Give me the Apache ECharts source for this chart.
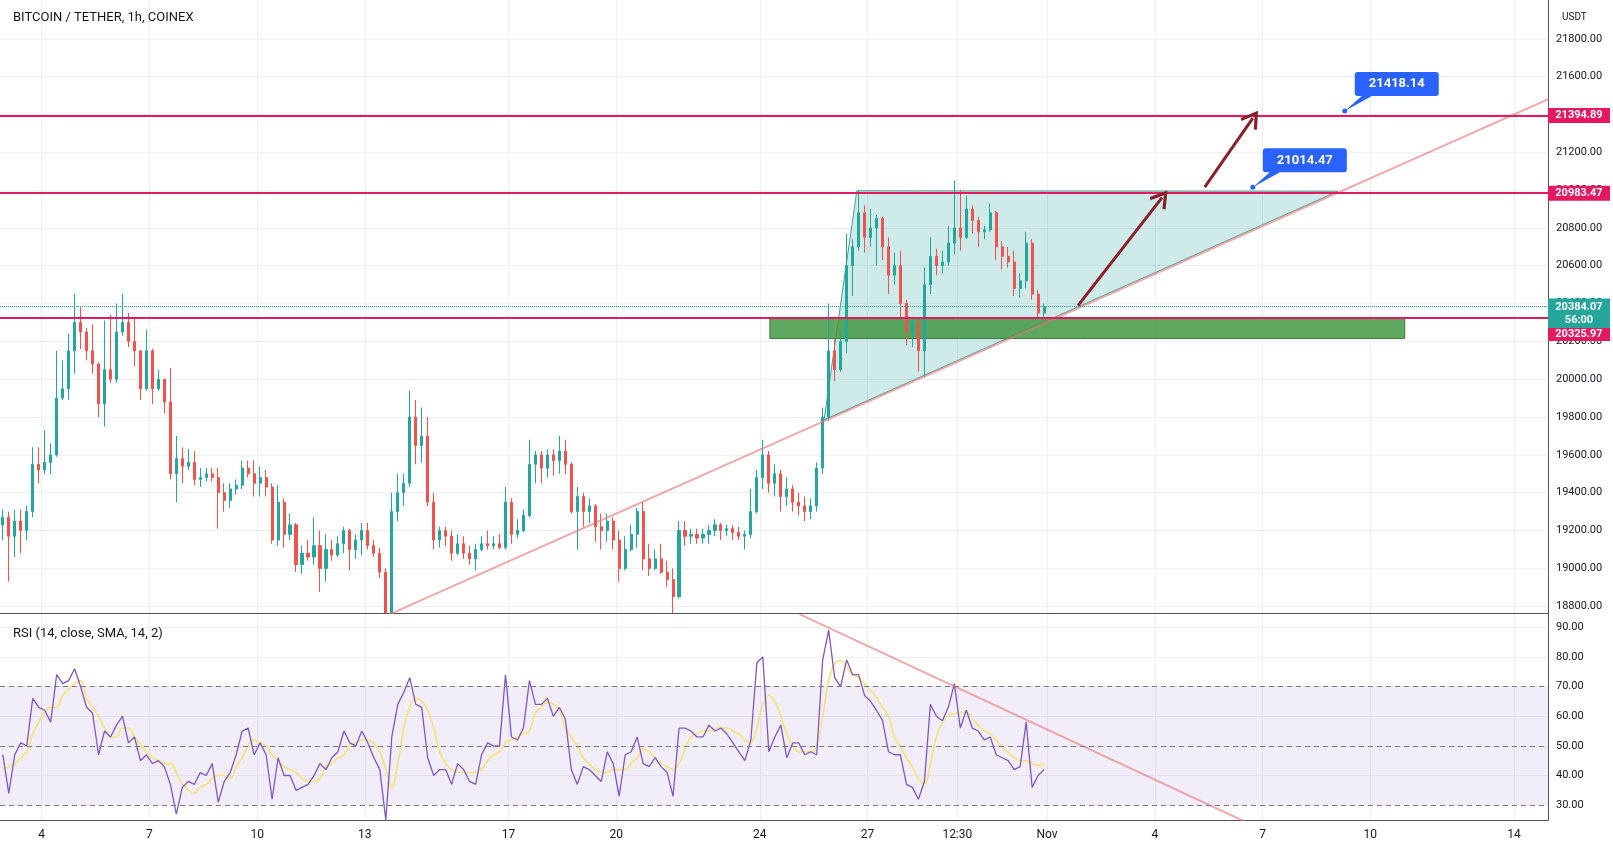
<!DOCTYPE html>
<html><head><meta charset="utf-8">
<script src="https://cdn.jsdelivr.net/npm/echarts@6/dist/echarts.min.js"></script>
<style>html,body{margin:0;padding:0;background:#fff}#c{width:1613px;height:845px}</style>
</head><body><div id="c"></div>
<script>
// ---------- data (x values are "day of October", Nov 1 = 32) ----------
const titleText = 'BITCOIN / TETHER, 1h, COINEX';
const rsiTitle = 'RSI (14, close, SMA, 14, 2)';
const firstCandleHour = 46;   // hours after Oct 1 00:00 (centre of first 4h candle)
const candleHours = 4;

const opens = [19230,19270,19170,19250,19200,19300,19550,19520,19560,19600,
19900,19950,20150,20300,20250,20150,20080,19870,20050,20000,
20250,20300,20200,20150,19950,20150,19950,20000,19880,19500,
19580,19540,19560,19470,19480,19500,19480,19400,19360,19420,
19440,19530,19500,19450,19480,19430,19150,19350,19180,19230,
19020,19080,19060,19120,19000,19100,19070,19130,19200,19100,
19150,19200,19120,19080,18980,18700,19300,19400,19450,19800,
19650,19700,19350,19150,19200,19170,19080,19130,19080,19050,
19100,19130,19120,19130,19110,19350,19180,19200,19280,19550,
19600,19530,19600,19570,19620,19550,19300,19380,19300,19330,
19220,19200,19250,19150,19000,19100,19180,19300,19050,19000,
19050,18980,18940,18850,19200,19170,19180,19160,19180,19200,
19230,19200,19210,19190,19170,19180,19300,19480,19600,19450,
19500,19380,19420,19350,19330,19300,19330,19530,19800,20150,
20050,20200,20600,20700,20880,20750,20800,20850,20700,20550,
20600,20400,20250,20300,20150,20500,20650,20600,20620,20720,
20800,20750,20900,20840,20780,20790,20880,20700,20650,20620,
20480,20520,20720,20450,20350];
const closes = [19270,19170,19250,19200,19300,19550,19520,19560,19600,19900,
19950,20150,20300,20250,20150,20080,19870,20050,20000,20250,
20300,20200,20150,19950,20150,19950,20000,19880,19500,19580,
19540,19560,19470,19480,19500,19480,19400,19360,19420,19440,
19530,19500,19450,19480,19430,19150,19350,19180,19230,19020,
19080,19060,19120,19000,19100,19070,19130,19200,19100,19150,
19200,19120,19080,18980,18700,19300,19400,19450,19800,19650,
19700,19350,19150,19200,19170,19080,19130,19080,19050,19100,
19130,19120,19130,19110,19350,19180,19200,19280,19550,19600,
19530,19600,19570,19620,19550,19300,19380,19300,19330,19220,
19200,19250,19150,19000,19100,19180,19300,19050,19000,19050,
18980,18940,18850,19200,19170,19180,19160,19180,19200,19230,
19200,19210,19190,19170,19180,19300,19480,19600,19450,19500,
19380,19420,19350,19330,19300,19330,19530,19800,20150,20050,
20200,20600,20700,20880,20750,20800,20850,20700,20550,20600,
20400,20250,20300,20150,20500,20650,20600,20620,20720,20800,
20750,20900,20840,20780,20790,20880,20700,20650,20620,20480,
20520,20720,20450,20350,20384.07];
const lows = [19150,18930,19060,19080,19150,19270,19450,19500,19500,19590,
19890,19890,20030,20160,20100,20030,19800,19750,19980,19980,
20230,20170,20070,19890,19940,19870,19940,19820,19470,19350,
19450,19520,19440,19430,19460,19460,19210,19300,19320,19390,
19420,19480,19380,19380,19380,19130,19120,19110,19150,18980,
18970,19040,19020,18875,18930,19040,19060,19080,18990,19050,
19070,19100,19060,18950,18400,18190,19250,19330,19430,19550,
19560,19330,19100,19110,19120,19040,19070,19050,19020,18990,
19090,19100,19100,19100,19100,19130,19160,19190,19270,19450,
19450,19480,19490,19500,19500,19290,19100,19220,19240,19140,
19100,19140,19100,18930,18990,19090,19110,18990,18960,18990,
18970,18900,18650,18840,19120,19130,19130,19130,19130,19170,
19150,19170,19150,19150,19100,19160,19290,19420,19400,19380,
19300,19330,19300,19280,19250,19260,19300,19500,19780,19990,
20040,20140,20440,20680,20670,20700,20600,20630,20450,20500,
20330,20180,20170,20040,20010,20450,20550,20560,20600,20660,
20680,20740,20770,20700,20740,20780,20630,20580,20590,20440,
20430,20480,20420,20320,20330];
const highs = [19310,19300,19310,19310,19330,19640,19640,19730,19660,20150,
20100,20240,20450,20380,20270,20290,20090,20310,20340,20400,
20450,20350,20330,20150,20260,20160,20050,20000,20060,19700,
19640,19630,19620,19530,19530,19530,19530,19450,19450,19470,
19570,19570,19570,19540,19520,19450,19440,19370,19290,19240,
19120,19150,19270,19200,19180,19150,19170,19220,19210,19180,
19240,19240,19150,19110,19000,19400,19500,19500,19940,19890,
19850,19800,19400,19220,19220,19200,19180,19170,19120,19130,
19170,19200,19170,19180,19430,19370,19260,19310,19680,19620,
19620,19630,19630,19700,19680,19560,19430,19400,19370,19340,
19290,19290,19270,19200,19170,19230,19320,19350,19130,19100,
19130,19040,19000,19250,19250,19210,19210,19210,19230,19260,
19240,19230,19230,19220,19200,19420,19520,19680,19620,19550,
19520,19480,19440,19400,19380,19370,19560,19850,20400,20210,
20260,20770,20740,21000,20920,20900,20870,20860,20750,20670,
20680,20420,20330,20320,20590,20750,20690,20680,20810,21050,
21000,20970,20920,20860,20810,20930,20890,20730,20700,20680,
20560,20780,20740,20470,20400];

const rsiValues = [47,34,47,51,50,66,63,62,58,74,
71,72,76,70,63,61,47,55,53,57,
60,51,53,45,47,44,45,43,37,27,
36,38,37,41,40,44,31,38,41,47,
55,56,47,51,47,32,46,40,40,35,
36,37,40,44,42,46,48,55,51,50,
55,51,46,42,25,53,64,68,73,64,
63,46,40,42,42,37,44,42,38,37,
47,51,50,50,74,53,52,56,72,64,
64,66,60,63,59,42,37,43,42,40,
38,48,44,33,47,48,53,44,43,46,
43,41,33,56,56,55,53,53,57,55,
56,54,51,48,45,52,78,80,48,53,
57,46,51,51,47,48,47,79,89,73,
70,79,74,74,67,65,62,58.5,48,47,
47,37,36,32,38,64,60,58.5,63,71,
56,62,56,55,52,53,47,46,45,42,
43,58,36,40,42];
const rsiSma = [42,43,44,46,48,54,58,61,63,63,
67,69,71,72,66,63,60,56,53,53,
56,56,53,50,48,46,45,44,44,41,
37,35,34,36,37,39,40,40,39,43,
46,50,52,51,50,47,45,43,42,41,
39,38,38,39,43,44,46,47,50,51,
52,52,51,48,42,36,44,56,63,66,
65,62,56,48,44,42,41,41,41,41,
42,45,47,48,51,52,53,54,55,61,
63,65,64,62,56,53,50,46,44,42,
41,41,42,42,42,44,46,49,48,46,
44,43,42,44,49,53,54,55,55,56,
56,56,55,54,52,51,56,64,67,65,
60,54,50,48,48,48,50,60,72,77.6,
78.7,76.5,74,73,71,68.6,66.4,63,60,53,
49.6,46,42.8,39,37.2,44,53,58,60.2,60.8,
61.3,61.3,59,56.9,55.2,54,51.8,49.6,47.9,46,
45,45,44,43.5,44];

const xTickValues = [4,7,10,13,17,20,24,27,29.5,32,35,38,41,45];
const xTickLabels = ['4','7','10','13','17','20','24','27','12:30','Nov','4','7','10','14'];
const priceTicks = [18800,19000,19200,19400,19600,19800,20000,20200,20400,20600,20800,21000,21200,21400,21600,21800];
const rsiTicks = [30,40,50,60,70,80,90];
const rsiBand = [30,70];
const rsiDashed = [70,50,30];

const levels = [21394.89, 20983.47, 20325.97];
const lastPrice = 20384.07;
const countdown = '56:00';
const trianglePts = [25.79,19785, 26.70,20996, 40.10,20994];
const zoneBox = [24.28,20326, 41.96,20215];
const trendLine = [[13,18699],[46,21484]];
const arrows = [[[32.86,20389],[35.20,20960]],[[36.39,21016],[37.73,21381]]];
const callouts = [[40.29,21418.14],[37.73,21014.47]];
const rsiTrend = [[25.1,94.4],[37.5,24.5]];

const XMIN = 2.839, XMAX = 45.95;
const PMIN = 18764, PMAX = 22005;
const RMIN = 25, RMAX = 94.8;

// ---------- build ----------
const dayOf = i => 1 + (firstCandleHour + i*candleHours)/24;
// wicks beyond the visible price range are cut at the pane edge, as in the source chart
const clampP = v => Math.min(PMAX, Math.max(PMIN, v));
const candles = opens.map((o,i)=>[dayOf(i), clampP(o), clampP(closes[i]), clampP(lows[i]), clampP(highs[i])]);
const rsiLine = rsiValues.map((v,i)=>[dayOf(i), v]);
const smaLine = rsiSma.map((v,i)=>[dayOf(i), v]);

const RED = '#e5195f', TEAL = '#26a69a', DOWN = '#ef5350';
const TXT = '#131722', GRID = '#eef0f5', AXIS = '#50535e';
const FONT = 'Roboto, "Noto Sans", sans-serif';

function xLabel(v){
  for (let i=0;i<xTickValues.length;i++) if (Math.abs(xTickValues[i]-v)<1e-6) return xTickLabels[i];
  return '';
}
const chevron = 'path://M0,0 L10,16 L7.5,18 L0,6 L-7.5,18 L-10,16 Z';
const calloutPath = 'path://M13,0 L91,0 Q94,0 94,3 L94,21 Q94,24 91,24 L27,24 L0,39 L17,24 L13,24 Q10,24 10,21 L10,3 Q10,0 13,0 Z';

const xCommon = {
  type:'value', min:XMIN, max:XMAX,
  axisTick:{show:false, customValues:xTickValues},
  splitLine:{show:true, lineStyle:{color:GRID, width:1}},
  axisLine:{show:true, lineStyle:{color:AXIS, width:1}}
};

const tagX = XMAX - 1e-4;
const tag = (val, txt, color, h, dy) => ({
  coord:[tagX, val], symbol:'rect', symbolSize:[62,h], symbolOffset:[31,dy],
  itemStyle:{color:color},
  label:{show:true, position:'inside', formatter:txt, color:'#fff', fontSize:11, fontWeight:'bold', lineHeight:13, fontFamily:FONT}
});

const option = {
  animation:false,
  backgroundColor:'#ffffff',
  textStyle:{fontFamily:FONT},
  title:[
    {text:titleText, left:8, top:6, textStyle:{fontSize:13, fontWeight:'normal', color:TXT, fontFamily:FONT}},
    {text:rsiTitle, left:8, top:622, textStyle:{fontSize:13, fontWeight:'normal', color:TXT, fontFamily:FONT}},
    {text:'USDT', left:1557, top:7, textStyle:{fontSize:10, fontWeight:'normal', color:TXT, fontFamily:FONT}}
  ],
  grid:[
    {left:0, right:65, top:0, height:613},
    {left:0, right:65, top:613, height:207}
  ],
  xAxis:[
    Object.assign({gridIndex:0, axisLabel:{show:false}}, xCommon),
    Object.assign({gridIndex:1, axisLabel:{show:true, customValues:xTickValues, formatter:xLabel, color:TXT, fontSize:12, margin:9}}, xCommon)
  ],
  yAxis:[
    {type:'value', gridIndex:0, position:'right', min:PMIN, max:PMAX,
     axisLine:{show:true, lineStyle:{color:AXIS}}, axisTick:{show:false, customValues:priceTicks},
     axisLabel:{customValues:priceTicks, formatter:v=>v.toFixed(2), color:TXT, fontSize:11, margin:8},
     splitLine:{show:true, lineStyle:{color:GRID}}},
    {type:'value', gridIndex:1, position:'right', min:RMIN, max:RMAX,
     axisLine:{show:true, lineStyle:{color:AXIS}}, axisTick:{show:false, customValues:rsiTicks},
     axisLabel:{customValues:rsiTicks, formatter:v=>v.toFixed(2), color:TXT, fontSize:11, margin:8},
     splitLine:{show:true, lineStyle:{color:GRID}}}
  ],
  series:[
    { // triangle pattern
      type:'custom', xAxisIndex:0, yAxisIndex:0, z:1, silent:true,
      data:[trianglePts],
      renderItem:(params, api)=>{
        const pts=[];
        for (let j=0;j<3;j++) pts.push(api.coord([api.value(2*j), api.value(2*j+1)]));
        return {type:'polygon', shape:{points:pts}, style:{fill:'rgba(38,166,154,0.22)', stroke:'#4f9c93', lineWidth:1}};
      },
      encode:{x:[0,2,4], y:[1,3,5]}
    },
    { // green support zone
      type:'custom', xAxisIndex:0, yAxisIndex:0, z:2, silent:true,
      data:[zoneBox],
      renderItem:(params, api)=>{
        const a = api.coord([api.value(0), api.value(1)]);
        const b = api.coord([api.value(2), api.value(3)]);
        return {type:'rect', shape:{x:a[0], y:a[1], width:b[0]-a[0], height:b[1]-a[1]},
          style:{fill:'rgba(67,150,67,0.85)', stroke:'#3d7d3d', lineWidth:1}};
      },
      encode:{x:[0,2], y:[1,3]}
    },
    {
      type:'candlestick', name:'BTCUSDT', xAxisIndex:0, yAxisIndex:0, z:3,
      data:candles, barWidth:2.6, clip:true,
      itemStyle:{color:TEAL, color0:DOWN, borderColor:TEAL, borderColor0:DOWN, borderWidth:1},
      markLine:{
        silent:true, symbol:['none','none'], label:{show:false},
        data:[
          ...levels.map(v=>({yAxis:v, lineStyle:{color:RED, width:2, type:'solid'}})),
          {yAxis:lastPrice, lineStyle:{color:TEAL, width:1, type:'dotted'}}
        ]
      },
      markPoint:{
        silent:true,
        data:[
          tag(levels[0], levels[0].toFixed(2), RED, 15, 0),
          tag(levels[1], levels[1].toFixed(2), RED, 15, 0),
          tag(lastPrice, lastPrice.toFixed(2)+'\n'+countdown, TEAL, 30, 7),
          tag(levels[2], levels[2].toFixed(2), RED, 13, 17)
        ]
      }
    },
    { // rising trend line + arrows
      type:'line', xAxisIndex:0, yAxisIndex:0, z:4, silent:true, clip:true,
      data:trendLine, symbol:'none',
      lineStyle:{color:'rgba(229,115,115,0.6)', width:2},
      markLine:{
        silent:true, symbol:['none', chevron], symbolSize:[20,18], label:{show:false},
        lineStyle:{color:'#87202a', width:3, type:'solid'},
        data: arrows.map(a=>[{coord:a[0]},{coord:a[1]}])
      }
    },
    { // price callouts
      type:'scatter', xAxisIndex:0, yAxisIndex:0, z:6, silent:true,
      data:callouts, symbol:calloutPath, symbolSize:[94,39], symbolOffset:[47,-19.5],
      itemStyle:{color:'#2962ff', opacity:1},
      label:{show:true, position:[52,12], align:'center', verticalAlign:'middle',
        formatter:p=>p.value[1].toFixed(2), color:'#fff', fontSize:13, fontWeight:'bold', fontFamily:FONT}
    },
    {
      type:'scatter', xAxisIndex:0, yAxisIndex:0, z:7, silent:true,
      data:callouts, symbol:'circle', symbolSize:5, itemStyle:{color:'#2962ff', opacity:1}
    },
    { // RSI
      type:'line', xAxisIndex:1, yAxisIndex:1, z:3, data:rsiLine, symbol:'none', clip:true,
      lineStyle:{color:'#7e57c2', width:1.3},
      markArea:{silent:true, itemStyle:{color:'rgba(126,87,194,0.1)'}, data:[[{yAxis:rsiBand[0]},{yAxis:rsiBand[1]}]]},
      markLine:{silent:true, symbol:['none','none'], label:{show:false},
        lineStyle:{color:'#787b86', width:1, type:[5,4]},
        data:rsiDashed.map(v=>({yAxis:v}))}
    },
    {
      type:'line', xAxisIndex:1, yAxisIndex:1, z:2, data:smaLine, symbol:'none', smooth:0.4, clip:true,
      lineStyle:{color:'#f5e27c', width:1.6}
    },
    {
      type:'line', xAxisIndex:1, yAxisIndex:1, z:4, data:rsiTrend, symbol:'none', clip:true, silent:true,
      lineStyle:{color:'rgba(229,115,115,0.6)', width:2}
    }
  ]
};
const chart = echarts.init(document.getElementById('c'), null, {renderer:'canvas'});
chart.setOption(option);
</script>
</body></html>
